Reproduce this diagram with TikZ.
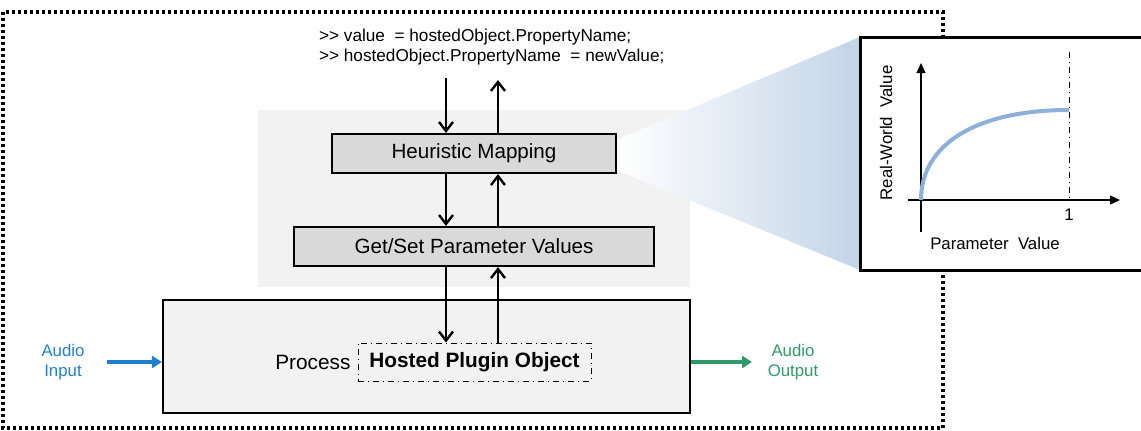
\documentclass[tikz,border=0pt]{standalone}
\usepackage{fontspec}
\setmainfont{Liberation Sans}
\usetikzlibrary{arrows.meta}
\definecolor{panelgray}{HTML}{F2F2F2}
\definecolor{boxgray}{HTML}{D9D9D9}
\definecolor{inblue}{HTML}{1E7FD0}
\definecolor{outgreen}{HTML}{2E9A68}
\definecolor{conebl}{HTML}{C3D4E8}
\definecolor{curvebl}{HTML}{8DAFD9}
\begin{document}
\begin{tikzpicture}[x=0.5pt,y=-0.5pt,
    blockbox/.style={draw,line width=1.1pt,fill=boxgray,inner sep=0pt,
      minimum height=19.5pt,font=\fontsize{10.3}{12}\selectfont},
    flow/.style={line width=1.2pt,-{Straight Barb[length=4.5pt,width=7pt]}},
    audio/.style={line width=1.6pt,-{Triangle[length=5pt,width=6pt]}},
    axis/.style={line width=0.6pt,-{Triangle[length=5pt,width=4.5pt]}},
    small/.style={font=\fontsize{8.4}{10.3}\selectfont,align=center}]
  \useasboundingbox (0,0) rectangle (1141,430);
  \draw[line width=1.6pt,dash pattern=on 1.5pt off 1.5pt] (3,12) rectangle (943,428);
  \fill[panelgray] (258,110) rectangle (690,287);
  \shade[left color=white,right color=conebl] (616,140) -- (860,37) -- (860,270) -- (616,170) -- cycle;
  \node (code) [anchor=west,align=left,font=\fontsize{8.6}{10}\selectfont]
    at (312,47) {{>}{>} value\ \ = hostedObject.PropertyName;\\{>}{>} hostedObject.PropertyName\ \ = newValue;};
  \node (heur) [blockbox,minimum width=142pt] at (474,153.5) {Heuristic Mapping};
  \node (getset) [blockbox,minimum width=180pt] at (474,246.5) {Get/Set Parameter Values};
  \node (proc) [draw,line width=1.1pt,fill=panelgray,minimum width=263.5pt,minimum height=56.5pt]
    at (426.5,356.5) {};
  \node (plugin) [draw,line width=0.5pt,dash dot,minimum width=116.5pt,minimum height=19pt,
    font=\fontsize{10.4}{12}\selectfont\bfseries] at (474.5,362) {Hosted Plugin Object};
  \node (process) [anchor=east,font=\fontsize{10.4}{12}\selectfont] at (plugin.west) {Process};
  \coordinate (downx) at (446,78);
  \coordinate (upx) at (498,80);
  \draw[flow] (downx) -- (heur.north -| downx);
  \draw[flow] (heur.north -| upx) -- (upx);
  \draw[flow] (heur.south -| downx) -- (getset.north -| downx);
  \draw[flow] (getset.north -| upx) -- (heur.south -| upx);
  \draw[flow] (getset.south -| downx) -- (plugin.north -| downx);
  \draw[flow] (plugin.north -| upx) -- (getset.south -| upx);
  \node (ain) [small,text=inblue] at (63,362) {Audio\\Input};
  \node (aout) [small,text=outgreen] at (793,362) {Audio\\Output};
  \coordinate (ainend) at (107,362);
  \coordinate (aoutend) at (752,362);
  \draw[audio,inblue] (ainend) -- (proc.west |- ainend);
  \draw[audio,outgreen] (proc.east |- aoutend) -- (aoutend);
  \node (plot) [draw,line width=1.5pt,fill=white,minimum width=141.5pt,minimum height=116.5pt]
    at (1001.5,153.5) {};
  \coordinate (org) at (921,200);
  \coordinate (ytop) at (921,63);
  \coordinate (ybot) at (921,232);
  \coordinate (xleft) at (908,200);
  \coordinate (xright) at (1120,200);
  \coordinate (onetop) at (1069,52);
  \coordinate (onebot) at (1069,200);
  \draw[axis] (ybot) -- (ytop);
  \draw[axis] (xleft) -- (xright);
  \draw[line width=0.5pt,dash dot] (onetop) -- (onebot);
  \draw[curvebl,line width=2pt] (org) .. controls (921,145) and (975,110) .. (1069,110);
  \node (one) [small] at (1069,215) {1};
  \node (xlab) [small] at (995,243) {Parameter\ \ Value};
  \node (ylab) [small,rotate=90] at (886,133) {Real-World\ \ Value};
\end{tikzpicture}
\end{document}
